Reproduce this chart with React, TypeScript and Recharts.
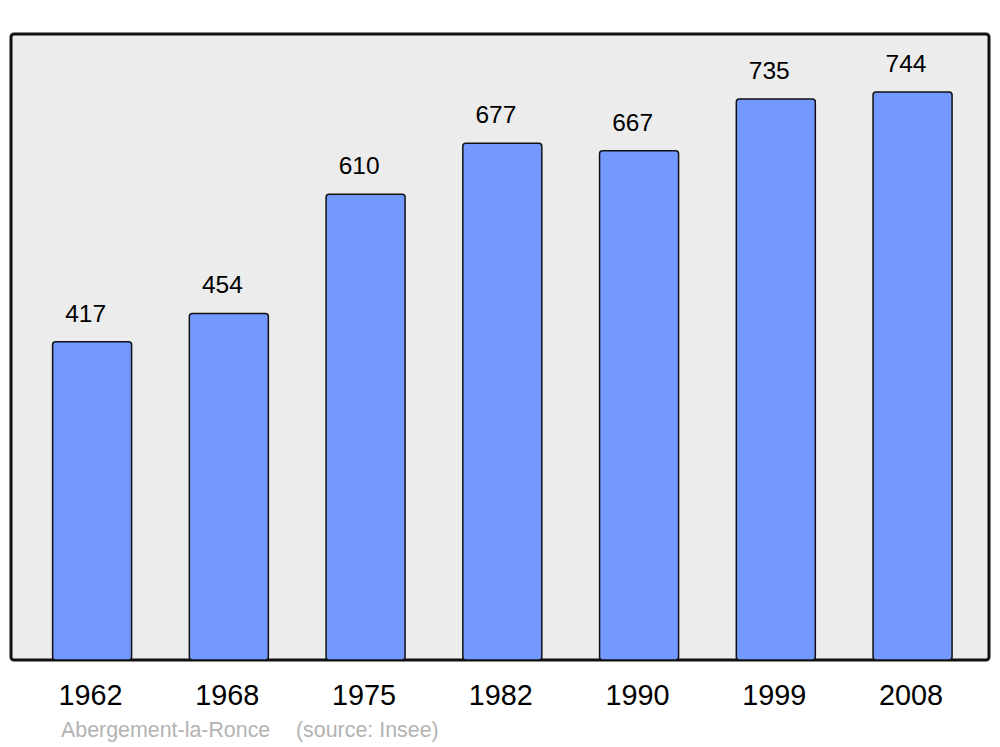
import React from 'react';
import { ComposedChart, Bar, XAxis, YAxis, LabelList, usePlotArea } from 'recharts';

const years = ['1962', '1968', '1975', '1982', '1990', '1999', '2008'];
const population = [417, 454, 610, 677, 667, 735, 744];
const yDomain = [0, 820];
const placeName = 'Abergement-la-Ronce';
const sourceText = '(source: Insee)';

const data = years.map((year, i) => ({ year, population: population[i] }));

const FONT = '"Liberation Sans", Arial, sans-serif';

function PlotBox() {
  const area = usePlotArea();
  if (!area) return null;
  return (
    <rect
      x={area.x}
      y={area.y}
      width={area.width}
      height={area.height}
      rx={3}
      ry={3}
      fill="#ececec"
      stroke="#111"
      strokeWidth={3}
    />
  );
}

function ValueLabel(props: any) {
  const { x, y, width, value } = props;
  return (
    <text
      x={Number(x) + Number(width) / 2 - 6.5}
      y={Number(y) - 20}
      textAnchor="middle"
      fill="#000"
      fontSize={24.5}
      fontFamily={FONT}
    >
      {value}
    </text>
  );
}

function YearTick(props: any) {
  const { x, y, payload } = props;
  return (
    <text
      x={Number(x) - 1.5}
      y={Number(y) + 20}
      textAnchor="middle"
      fill="#000"
      fontSize={28.8}
      fontFamily={FONT}
    >
      {payload.value}
    </text>
  );
}

export default function App() {
  return (
    <div style={{ position: 'absolute', left: 0, top: 0, width: 1000, height: 747, background: '#fff' }}>
      <ComposedChart
        width={1000}
        height={747}
        data={data}
        margin={{ top: 34, right: 11, bottom: 47, left: 11 }}
      >
        <PlotBox />
        <YAxis hide domain={yDomain} />
        <XAxis
          dataKey="year"
          height={40}
          axisLine={false}
          tickLine={false}
          tickSize={0}
          tickMargin={25}
          padding={{ left: 12.6, right: 8.2 }}
          interval={0}
          tick={<YearTick />}
        />
        <Bar
          dataKey="population"
          barSize={79}
          fill="#7399ff"
          stroke="#111"
          strokeWidth={1.5}
          radius={[3, 3, 3, 3]}
          isAnimationActive={false}
        >
          <LabelList dataKey="population" content={<ValueLabel />} />
        </Bar>
        <text x={61} y={737} fill="#b3b3b3" fontSize={21.4} fontFamily={FONT}>
          {placeName}
        </text>
        <text x={296} y={737} fill="#b3b3b3" fontSize={21.4} fontFamily={FONT}>
          {sourceText}
        </text>
      </ComposedChart>
    </div>
  );
}
